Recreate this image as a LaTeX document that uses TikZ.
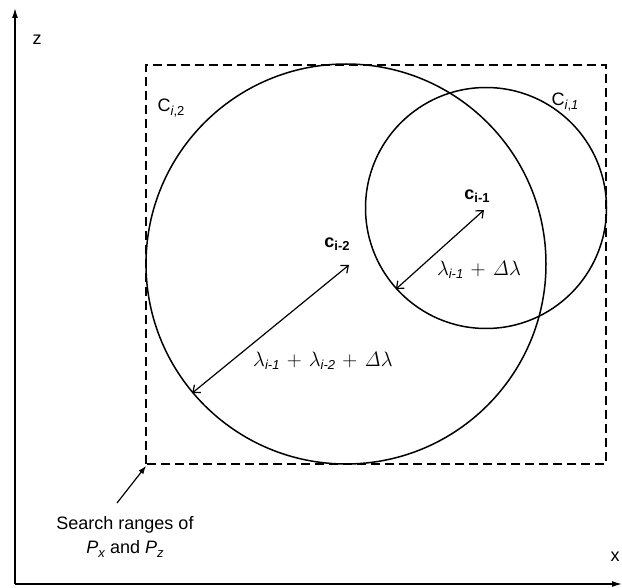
\documentclass[tikz,border=0pt]{standalone}
\usepackage{amsmath}
\usepackage[no-math]{fontspec}
\setmainfont{Liberation Sans}
\usetikzlibrary{arrows.meta,calc}
\newcommand{\mysub}[1]{\text{\fontsize{13}{13}\selectfont\textit{#1}}}
\newcommand{\mybin}{\mathbin{\mkern2mu+\mkern2mu}}
\newcommand{\csub}[1]{{\fontsize{13}{13}\selectfont\raisebox{-3.5pt}{#1}}}
\begin{document}
\begin{tikzpicture}[x=1pt,y=-1pt,
  lbl/.style={inner sep=1pt,font=\fontsize{18}{24}\selectfont},
  mlbl/.style={inner sep=1pt,font=\fontsize{20}{22}\selectfont},
  clbl/.style={inner sep=1pt,font=\fontsize{18}{20}\selectfont\bfseries},
  ringnode/.style={circle,draw,line width=1.5pt,inner sep=0pt},
  axisline/.style={line width=1.3pt,-{Latex[length=10pt,width=6pt]}},
  srange/.style={line width=1.4pt,dash pattern=on 9pt off 5pt},
  radarrow/.style={line width=1.2pt,{Straight Barb[length=6pt,width=10pt]}-{Straight Barb[length=6pt,width=10pt]}},
  pointer/.style={line width=1.2pt,-{Latex[length=8pt,width=6pt]}}]
\useasboundingbox[fill=white] (0,0) rectangle (622,588);
% axes
\coordinate (O) at (15,584);
\coordinate (Ztop) at (15,8);
\coordinate (Xend) at (622,584);
\draw[axisline] (O) -- (Ztop);
\draw[axisline] (O) -- (Xend);
\node[lbl] (zl) at (37,40) {z};
\node[lbl] (xl) at (615,557) {x};
% search range
\coordinate (RA) at (146,65);
\coordinate (RB) at (606,464);
\draw[srange] (RA |- RB) -- (RA) -- (RB |- RA) -- (RB) -- cycle;
% circles
\node[ringnode,minimum size=400pt] (C2) at (346,264) {};
\node[ringnode,minimum size=241pt] (C1) at (486,208) {};
\node[lbl] (C2l) at (171,108) {C\csub{\textit{i},2}};
\node[lbl] (C1l) at (565,102) {C\csub{\textit{i},\textit{1}}};
% centres and radii
\coordinate (c2) at (349,265);
\coordinate (c1) at (484,210);
\node[clbl] (c2l) at (337,244) {c\csub{i-2}};
\node[clbl] (c1l) at (477,196) {c\csub{i-1}};
\draw[radarrow] (C2.220) -- (c2);
\draw[radarrow] (C1.222) -- (c1);
\node[mlbl] (r2) at (323,361) {$\lambda_{\mysub{i-1}} \mybin \lambda_{\mysub{i-2}} \mybin \mathit{\Delta}\lambda$};
\node[mlbl] (r1) at (479,270) {$\lambda_{\mysub{i-1}} \mybin \mathit{\Delta}\lambda$};
% search range label
\node[lbl,align=center] (S) at (125,537) {Search ranges of\\ \textit{P}\csub{\textit{x}} and \textit{P}\csub{\textit{z}}};
\coordinate (Sp) at (117,503);
\draw[pointer] (Sp) -- ($(RA |- RB)+(0,2)$);
\end{tikzpicture}
\end{document}
